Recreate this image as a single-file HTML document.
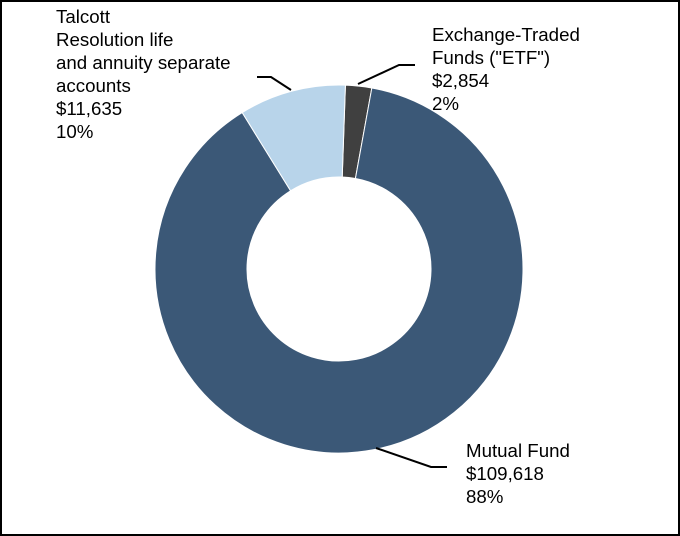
<!DOCTYPE html>
<html><head><meta charset="utf-8"><style>
body{margin:0;background:#fff}
svg{display:block;font-family:"Liberation Sans",Arial,sans-serif}
</style></head><body>
<svg id="c" width="680" height="536">
<rect x="1" y="1" width="678" height="534" fill="#fff" stroke="#000" stroke-width="2"/>
<g id="slices"></g>
<g font-size="18.7" fill="#000">
<polyline points="257,77 271,77 291,90" fill="none" stroke="#000" stroke-width="2"/>
<polyline points="358,84 399,65 415,65" fill="none" stroke="#000" stroke-width="2"/>
<polyline points="376,448 431,467 447,467" fill="none" stroke="#000" stroke-width="2"/>
<text><tspan x="56" y="23">Talcott</tspan><tspan x="56" y="46">Resolution life</tspan><tspan x="56" y="69">and annuity separate</tspan><tspan x="56" y="92">accounts</tspan><tspan x="56" y="115">$11,635</tspan><tspan x="56" y="138">10%</tspan></text>
<text><tspan x="432" y="41">Exchange-Traded</tspan><tspan x="432" y="64">Funds ("ETF")</tspan><tspan x="432" y="87">$2,854</tspan><tspan x="432" y="110">2%</tspan></text>
<text><tspan x="466" y="457">Mutual Fund</tspan><tspan x="466" y="480">$109,618</tspan><tspan x="466" y="503">88%</tspan></text>
</g>
</svg>
<script>
const categories=["Exchange-Traded Funds","Mutual Fund","Talcott Resolution"];
const values=[2854,109618,11635];
const colors=["#404040","#3b5877","#b8d4ea"];
const cx=339,cy=269,R=184,r=92,start=2;
const g=document.getElementById('slices');
const total=values.reduce((a,b)=>a+b,0);
let a0=start;
function pt(a,rad){const t=(a-90)*Math.PI/180;return [cx+rad*Math.cos(t),cy+rad*Math.sin(t)];}
values.forEach((v,i)=>{
  const a1=a0+v/total*360;
  const lg=(a1-a0)>180?1:0;
  const p1=pt(a0,R),p2=pt(a1,R),p3=pt(a1,r),p4=pt(a0,r);
  const p=document.createElementNS('http://www.w3.org/2000/svg','path');
  p.setAttribute('d',`M${p1[0]},${p1[1]}A${R},${R} 0 ${lg} 1 ${p2[0]},${p2[1]}L${p3[0]},${p3[1]}A${r},${r} 0 ${lg} 0 ${p4[0]},${p4[1]}Z`);
  p.setAttribute('fill',colors[i]);
  p.setAttribute('stroke','#fff');
  p.setAttribute('stroke-width','1');
  
  
  g.appendChild(p);
  a0=a1;
});
</script>
</body></html>
